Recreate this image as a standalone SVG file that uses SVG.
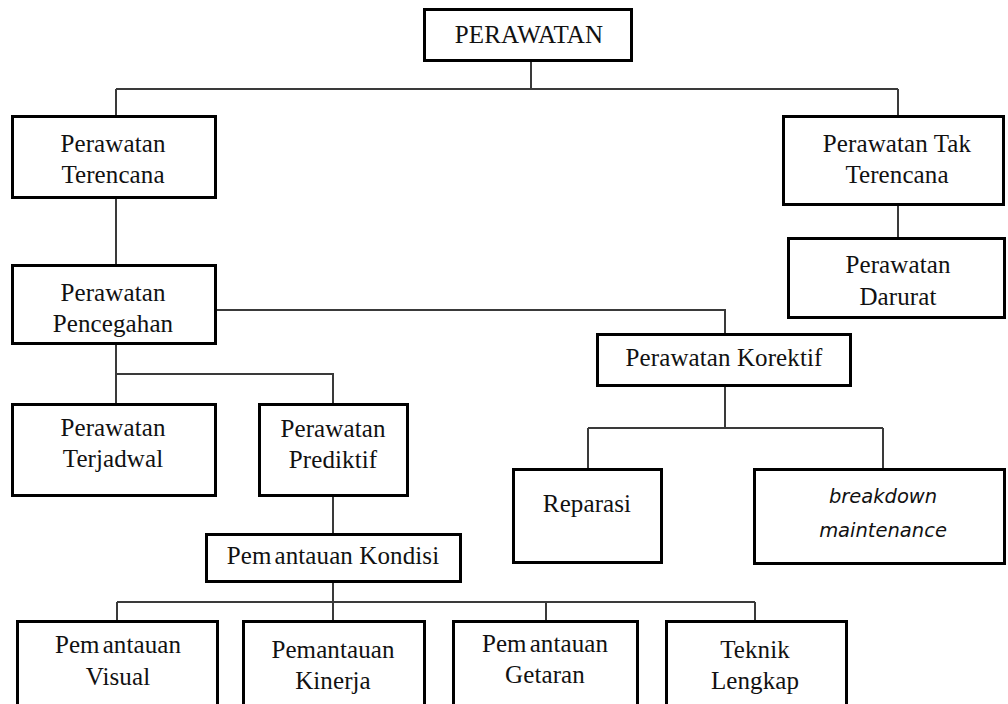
<svg xmlns="http://www.w3.org/2000/svg" width="1008" height="704" viewBox="0 0 1008 704">
  <style>
    .box { fill: #ffffff; stroke: #000000; stroke-width: 3; }
    .link { fill: none; stroke: #3a3a3a; stroke-width: 2; }
    .lbl { font-family: "Liberation Serif", "Times New Roman", serif; font-size: 25px; letter-spacing: 0.1px; fill: #111111; text-anchor: middle; }
    .it { font-family: "DejaVu Sans", Verdana, sans-serif; font-style: italic; font-size: 19.5px; fill: #111111; text-anchor: middle; }
  </style>
  <rect width="1008" height="704" fill="#ffffff"/>

  <!-- tree connectors -->
  <g id="connectors">
    <path class="link" d="M531,62 V89 M116,89 H898 M116,89 V115 M898,89 V115"/>
    <path class="link" d="M116,199 V264"/>
    <path class="link" d="M898,206 V237"/>
    <path class="link" d="M217,310 H725 V333"/>
    <path class="link" d="M116,345 V403 M116,374 H333 V403"/>
    <path class="link" d="M333,497 V533"/>
    <path class="link" d="M725,387 V428 M588,428 H883 M588,428 V468 M883,428 V468"/>
    <path class="link" d="M333,583 V620 M117,602 H755 M117,602 V620 M546,602 V620 M755,602 V620"/>
  </g>

  <g id="perawatan">
    <rect class="box" x="424.5" y="9.5" width="207" height="51"/>
    <text class="lbl" x="529" y="43">PERAWATAN</text>
  </g>

  <g id="terencana">
    <rect class="box" x="12.5" y="116.5" width="203" height="81"/>
    <text class="lbl" x="113" y="152">Perawatan</text>
    <text class="lbl" x="113" y="183">Terencana</text>
  </g>

  <g id="tak-terencana">
    <rect class="box" x="783.5" y="116.5" width="220" height="88"/>
    <text class="lbl" x="897" y="152">Perawatan Tak</text>
    <text class="lbl" x="897" y="183">Terencana</text>
  </g>

  <g id="darurat">
    <rect class="box" x="788.5" y="238.5" width="216" height="79"/>
    <text class="lbl" x="898" y="273">Perawatan</text>
    <text class="lbl" x="898" y="305">Darurat</text>
  </g>

  <g id="pencegahan">
    <rect class="box" x="12.5" y="265.5" width="203" height="78"/>
    <text class="lbl" x="113" y="301">Perawatan</text>
    <text class="lbl" x="113" y="332">Pencegahan</text>
  </g>

  <g id="korektif">
    <rect class="box" x="597.5" y="334.5" width="253" height="51"/>
    <text class="lbl" x="724" y="366">Perawatan Korektif</text>
  </g>

  <g id="terjadwal">
    <rect class="box" x="12.5" y="404.5" width="203" height="91"/>
    <text class="lbl" x="113" y="436">Perawatan</text>
    <text class="lbl" x="113" y="467">Terjadwal</text>
  </g>

  <g id="prediktif">
    <rect class="box" x="259.5" y="404.5" width="148" height="91"/>
    <text class="lbl" x="333" y="437">Perawatan</text>
    <text class="lbl" x="333" y="468">Prediktif</text>
  </g>

  <g id="reparasi">
    <rect class="box" x="513.5" y="469.5" width="148" height="93"/>
    <text class="lbl" x="587" y="512">Reparasi</text>
  </g>

  <g id="breakdown">
    <rect class="box" x="754.5" y="469.5" width="250" height="94"/>
    <text class="it" x="883" y="503">breakdown</text>
    <text class="it" x="883" y="537">maintenance</text>
  </g>

  <g id="kondisi">
    <rect class="box" x="206.5" y="534.5" width="254" height="47"/>
    <text class="lbl" x="333" y="564">Pem<tspan dx="3">antauan Kondisi</tspan></text>
  </g>

  <g id="visual">
    <rect class="box" x="17.5" y="621.5" width="200" height="84"/>
    <text class="lbl" x="118" y="653">Pem<tspan dx="3">antauan</tspan></text>
    <text class="lbl" x="118" y="685">Visual</text>
  </g>

  <g id="kinerja">
    <rect class="box" x="243.5" y="621.5" width="181" height="84"/>
    <text class="lbl" x="333" y="658">Pemantauan</text>
    <text class="lbl" x="333" y="689">Kinerja</text>
  </g>

  <g id="getaran">
    <rect class="box" x="453.5" y="621.5" width="184" height="84"/>
    <text class="lbl" x="545" y="652">Pem<tspan dx="3">antauan</tspan></text>
    <text class="lbl" x="545" y="683">Getaran</text>
  </g>

  <g id="lengkap">
    <rect class="box" x="666.5" y="621.5" width="180" height="84"/>
    <text class="lbl" x="755" y="658">Teknik</text>
    <text class="lbl" x="755" y="689">Lengkap</text>
  </g>
</svg>
